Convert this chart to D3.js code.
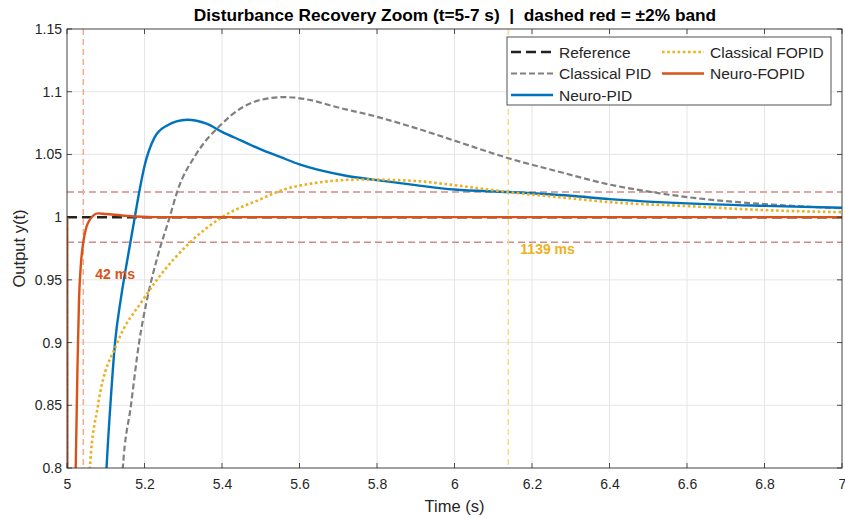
<!DOCTYPE html>
<html>
<head>
<meta charset="utf-8">
<script src="https://cdn.jsdelivr.net/npm/d3@7"></script>
<style>
  body { margin: 0; background: #fff; }
  text { font-family: "Liberation Sans", Arial, sans-serif; fill: #262626; }
</style>
</head>
<body>
<div id="chart"></div>
<script>
// data: [time (s), output]
const reference = [[5, 1], [7, 1]];
const classicalPID = [[5, 1], [5.0005, 0.4], [5.1, 0.55], [5.13, 0.72], [5.144, 0.8], [5.165, 0.85], [5.186, 0.9],
  [5.207, 0.935], [5.235, 0.97], [5.265, 1.0], [5.284, 1.02], [5.333, 1.05], [5.395, 1.073], [5.45, 1.087],
  [5.50, 1.0935], [5.56, 1.0957], [5.64, 1.0925], [5.68, 1.089], [5.80, 1.080], [5.90, 1.071], [6.0, 1.061],
  [6.139, 1.047], [6.272, 1.036], [6.4, 1.026], [6.53, 1.019], [6.6, 1.016], [6.8, 1.0104], [7.0, 1.007]];
const neuroPID = [[5, 1], [5.0005, 0.5], [5.07, 0.6], [5.09, 0.72], [5.102, 0.8], [5.113, 0.855], [5.124, 0.9],
  [5.139, 0.935], [5.158, 0.97], [5.175, 1.0], [5.187, 1.021], [5.201, 1.042], [5.225, 1.063], [5.255, 1.0725],
  [5.31, 1.0776], [5.36, 1.0745], [5.40, 1.068], [5.45, 1.061], [5.50, 1.054], [5.55, 1.048], [5.60, 1.042],
  [5.72, 1.033], [5.80, 1.0295], [5.90, 1.0255], [6.0, 1.022], [6.139, 1.020], [6.3, 1.017], [6.4, 1.0144],
  [6.6, 1.011], [6.8, 1.009], [7.0, 1.0075]];
const classicalFOPID = [[5, 1], [5.0005, 0.45], [5.03, 0.6], [5.05, 0.74], [5.059, 0.8], [5.08, 0.85],
  [5.13, 0.9], [5.196, 0.934], [5.232, 0.95], [5.318, 0.98], [5.40, 1.0], [5.50, 1.0144], [5.55, 1.021],
  [5.635, 1.027], [5.76, 1.030], [5.89, 1.029], [6.0, 1.0255], [6.139, 1.020], [6.3, 1.015], [6.4, 1.012],
  [6.6, 1.0088], [6.8, 1.0056], [7.0, 1.004]];
const neuroFOPID = [[5, 1], [5.0005, 0.6], [5.012, 0.62], [5.02, 0.74], [5.0225, 0.8], [5.027, 0.88],
  [5.031, 0.934], [5.036, 0.963], [5.042, 0.98], [5.05, 0.992], [5.059, 0.998], [5.08, 1.003], [5.10, 1.0025],
  [5.154, 1.001], [5.22, 1.0], [7.0, 1.0]];

const bandLevels = [0.98, 1.02];
const settleMarks = [{ t: 5.042, label: "42 ms" }, { t: 6.139, label: "1139 ms" }];
const xTicks = [5, 5.2, 5.4, 5.6, 5.8, 6, 6.2, 6.4, 6.6, 6.8, 7];
const yTicks = [0.8, 0.85, 0.9, 0.95, 1, 1.05, 1.1, 1.15];
const seriesNames = ["Reference", "Classical PID", "Neuro-PID", "Classical FOPID", "Neuro-FOPID"];

const svgWidth = 845, svgHeight = 517,
  margin = { top: 29, right: 3, bottom: 49, left: 67 },
  width = svgWidth - margin.left - margin.right,
  height = svgHeight - margin.top - margin.bottom;

const svg = d3.select("#chart").append("svg")
  .attr("width", svgWidth)
  .attr("height", svgHeight);
const g = svg.append("g")
  .attr("transform", `translate(${margin.left},${margin.top})`);

const x = d3.scaleLinear().domain([5, 7]).range([0, width]);
const y = d3.scaleLinear().domain([0.8, 1.15]).range([height, 0]);

g.append("defs").append("clipPath").attr("id", "clip")
  .append("rect").attr("width", width).attr("height", height);

// grid
g.append("g").selectAll("line").data(xTicks).join("line")
  .attr("x1", d => x(d)).attr("x2", d => x(d))
  .attr("y1", 0).attr("y2", height)
  .attr("stroke", "#e6e6e6").attr("stroke-width", 1);
g.append("g").selectAll("line").data(yTicks).join("line")
  .attr("x1", 0).attr("x2", width)
  .attr("y1", d => y(d)).attr("y2", d => y(d))
  .attr("stroke", "#e6e6e6").attr("stroke-width", 1);

const plot = g.append("g").attr("clip-path", "url(#clip)");

// +-2% band
plot.selectAll(".band").data(bandLevels).join("line")
  .attr("class", "band")
  .attr("x1", 0).attr("x2", width)
  .attr("y1", d => y(d)).attr("y2", d => y(d))
  .attr("stroke", "#d08c8c").attr("stroke-width", 1.5)
  .attr("stroke-dasharray", "7,4");

// settling markers
const markColors = ["#f5ab8c", "#f7d98f"];
plot.selectAll(".mark").data(settleMarks).join("line")
  .attr("class", "mark")
  .attr("x1", d => x(d.t)).attr("x2", d => x(d.t))
  .attr("y1", 0).attr("y2", height)
  .attr("stroke", (d, i) => markColors[i]).attr("stroke-width", 1.5)
  .attr("stroke-dasharray", "6,4");

const line = d3.line()
  .x(d => x(d[0]))
  .y(d => y(d[1]))
  .curve(d3.curveMonotoneX);

const styles = [
  { data: reference, color: "#222222", w: 2.5, dash: "10,5" },
  { data: classicalPID, color: "#808080", w: 2.2, dash: "6,3" },
  { data: neuroPID, color: "#0072BD", w: 2.4, dash: null },
  { data: classicalFOPID, color: "#EDB120", w: 2.6, dash: "2.6,2.6" },
  { data: neuroFOPID, color: "#D95319", w: 2.4, dash: null }
];

styles.forEach(s => {
  plot.append("path")
    .datum(s.data)
    .attr("d", line)
    .attr("fill", "none")
    .attr("stroke", s.color)
    .attr("stroke-width", s.w)
    .attr("stroke-dasharray", s.dash);
});

// annotations
g.append("text")
  .attr("x", x(settleMarks[0].t) + 12).attr("y", y(0.951))
  .style("font-size", "14px").style("font-weight", "bold").style("fill", "#D95319")
  .text(settleMarks[0].label);
g.append("text")
  .attr("x", x(settleMarks[1].t) + 12).attr("y", y(0.9705))
  .style("font-size", "14px").style("font-weight", "bold").style("fill", "#EDB120")
  .text(settleMarks[1].label);

// axes box with inward ticks on all sides
const tickLen = 5;
g.append("rect").attr("width", width).attr("height", height)
  .attr("fill", "none").attr("stroke", "#262626").attr("stroke-width", 0.8);
const axisG = g.append("g");
xTicks.forEach(t => {
  axisG.append("line").attr("x1", x(t)).attr("x2", x(t)).attr("y1", height).attr("y2", height - tickLen)
    .attr("stroke", "#262626").attr("stroke-width", 0.8);
  axisG.append("line").attr("x1", x(t)).attr("x2", x(t)).attr("y1", 0).attr("y2", tickLen)
    .attr("stroke", "#262626").attr("stroke-width", 0.8);
});
yTicks.forEach(t => {
  axisG.append("line").attr("x1", 0).attr("x2", tickLen).attr("y1", y(t)).attr("y2", y(t))
    .attr("stroke", "#262626").attr("stroke-width", 0.8);
  axisG.append("line").attr("x1", width).attr("x2", width - tickLen).attr("y1", y(t)).attr("y2", y(t))
    .attr("stroke", "#262626").attr("stroke-width", 0.8);
});

const xAxis = g.append("g")
  .attr("transform", `translate(0,${height})`)
  .call(d3.axisBottom(x).tickValues(xTicks).tickSize(0).tickPadding(11).tickFormat(d3.format("")));
const yAxis = g.append("g")
  .call(d3.axisLeft(y).tickValues(yTicks).tickSize(0).tickPadding(5).tickFormat(d3.format("")));
[xAxis, yAxis].forEach(a => {
  a.select(".domain").remove();
  a.selectAll("text").style("font-size", "14px").style("fill", "#262626")
    .style("font-family", "'Liberation Sans', Arial, sans-serif");
});

// labels
svg.append("text")
  .attr("x", margin.left + width / 2).attr("y", 512)
  .attr("text-anchor", "middle").style("font-size", "16.5px")
  .text("Time (s)");
svg.append("text")
  .attr("transform", `translate(25,${margin.top + height / 2}) rotate(-90)`)
  .attr("text-anchor", "middle").style("font-size", "16.5px")
  .text("Output y(t)");
svg.append("text")
  .attr("x", 455).attr("y", 21)
  .attr("text-anchor", "middle").style("font-size", "17.3px").style("font-weight", "bold")
  .style("fill", "#000").style("white-space", "pre").attr("xml:space", "preserve")
  .text("Disturbance Recovery Zoom (t=5-7 s)  |  dashed red = \u00b12% band");

// legend (two columns, column-first order)
const legend = svg.append("g").attr("transform", "translate(507,37)");
legend.append("rect").attr("width", 324).attr("height", 68)
  .attr("fill", "#fff").attr("stroke", "#262626").attr("stroke-width", 0.8);
const legendPos = [[0, 0], [0, 1], [0, 2], [1, 0], [1, 1]];
styles.forEach((s, i) => {
  const cx = legendPos[i][0] === 0 ? 4 : 155;
  const cy = 15 + legendPos[i][1] * 21.5;
  legend.append("line")
    .attr("x1", cx).attr("x2", cx + 42).attr("y1", cy).attr("y2", cy)
    .attr("stroke", s.color).attr("stroke-width", s.w)
    .attr("stroke-dasharray", s.dash);
  legend.append("text")
    .attr("x", cx + 48).attr("y", cy + 5.5)
    .style("font-size", "15.5px")
    .text(seriesNames[i]);
});
</script>
</body>
</html>
